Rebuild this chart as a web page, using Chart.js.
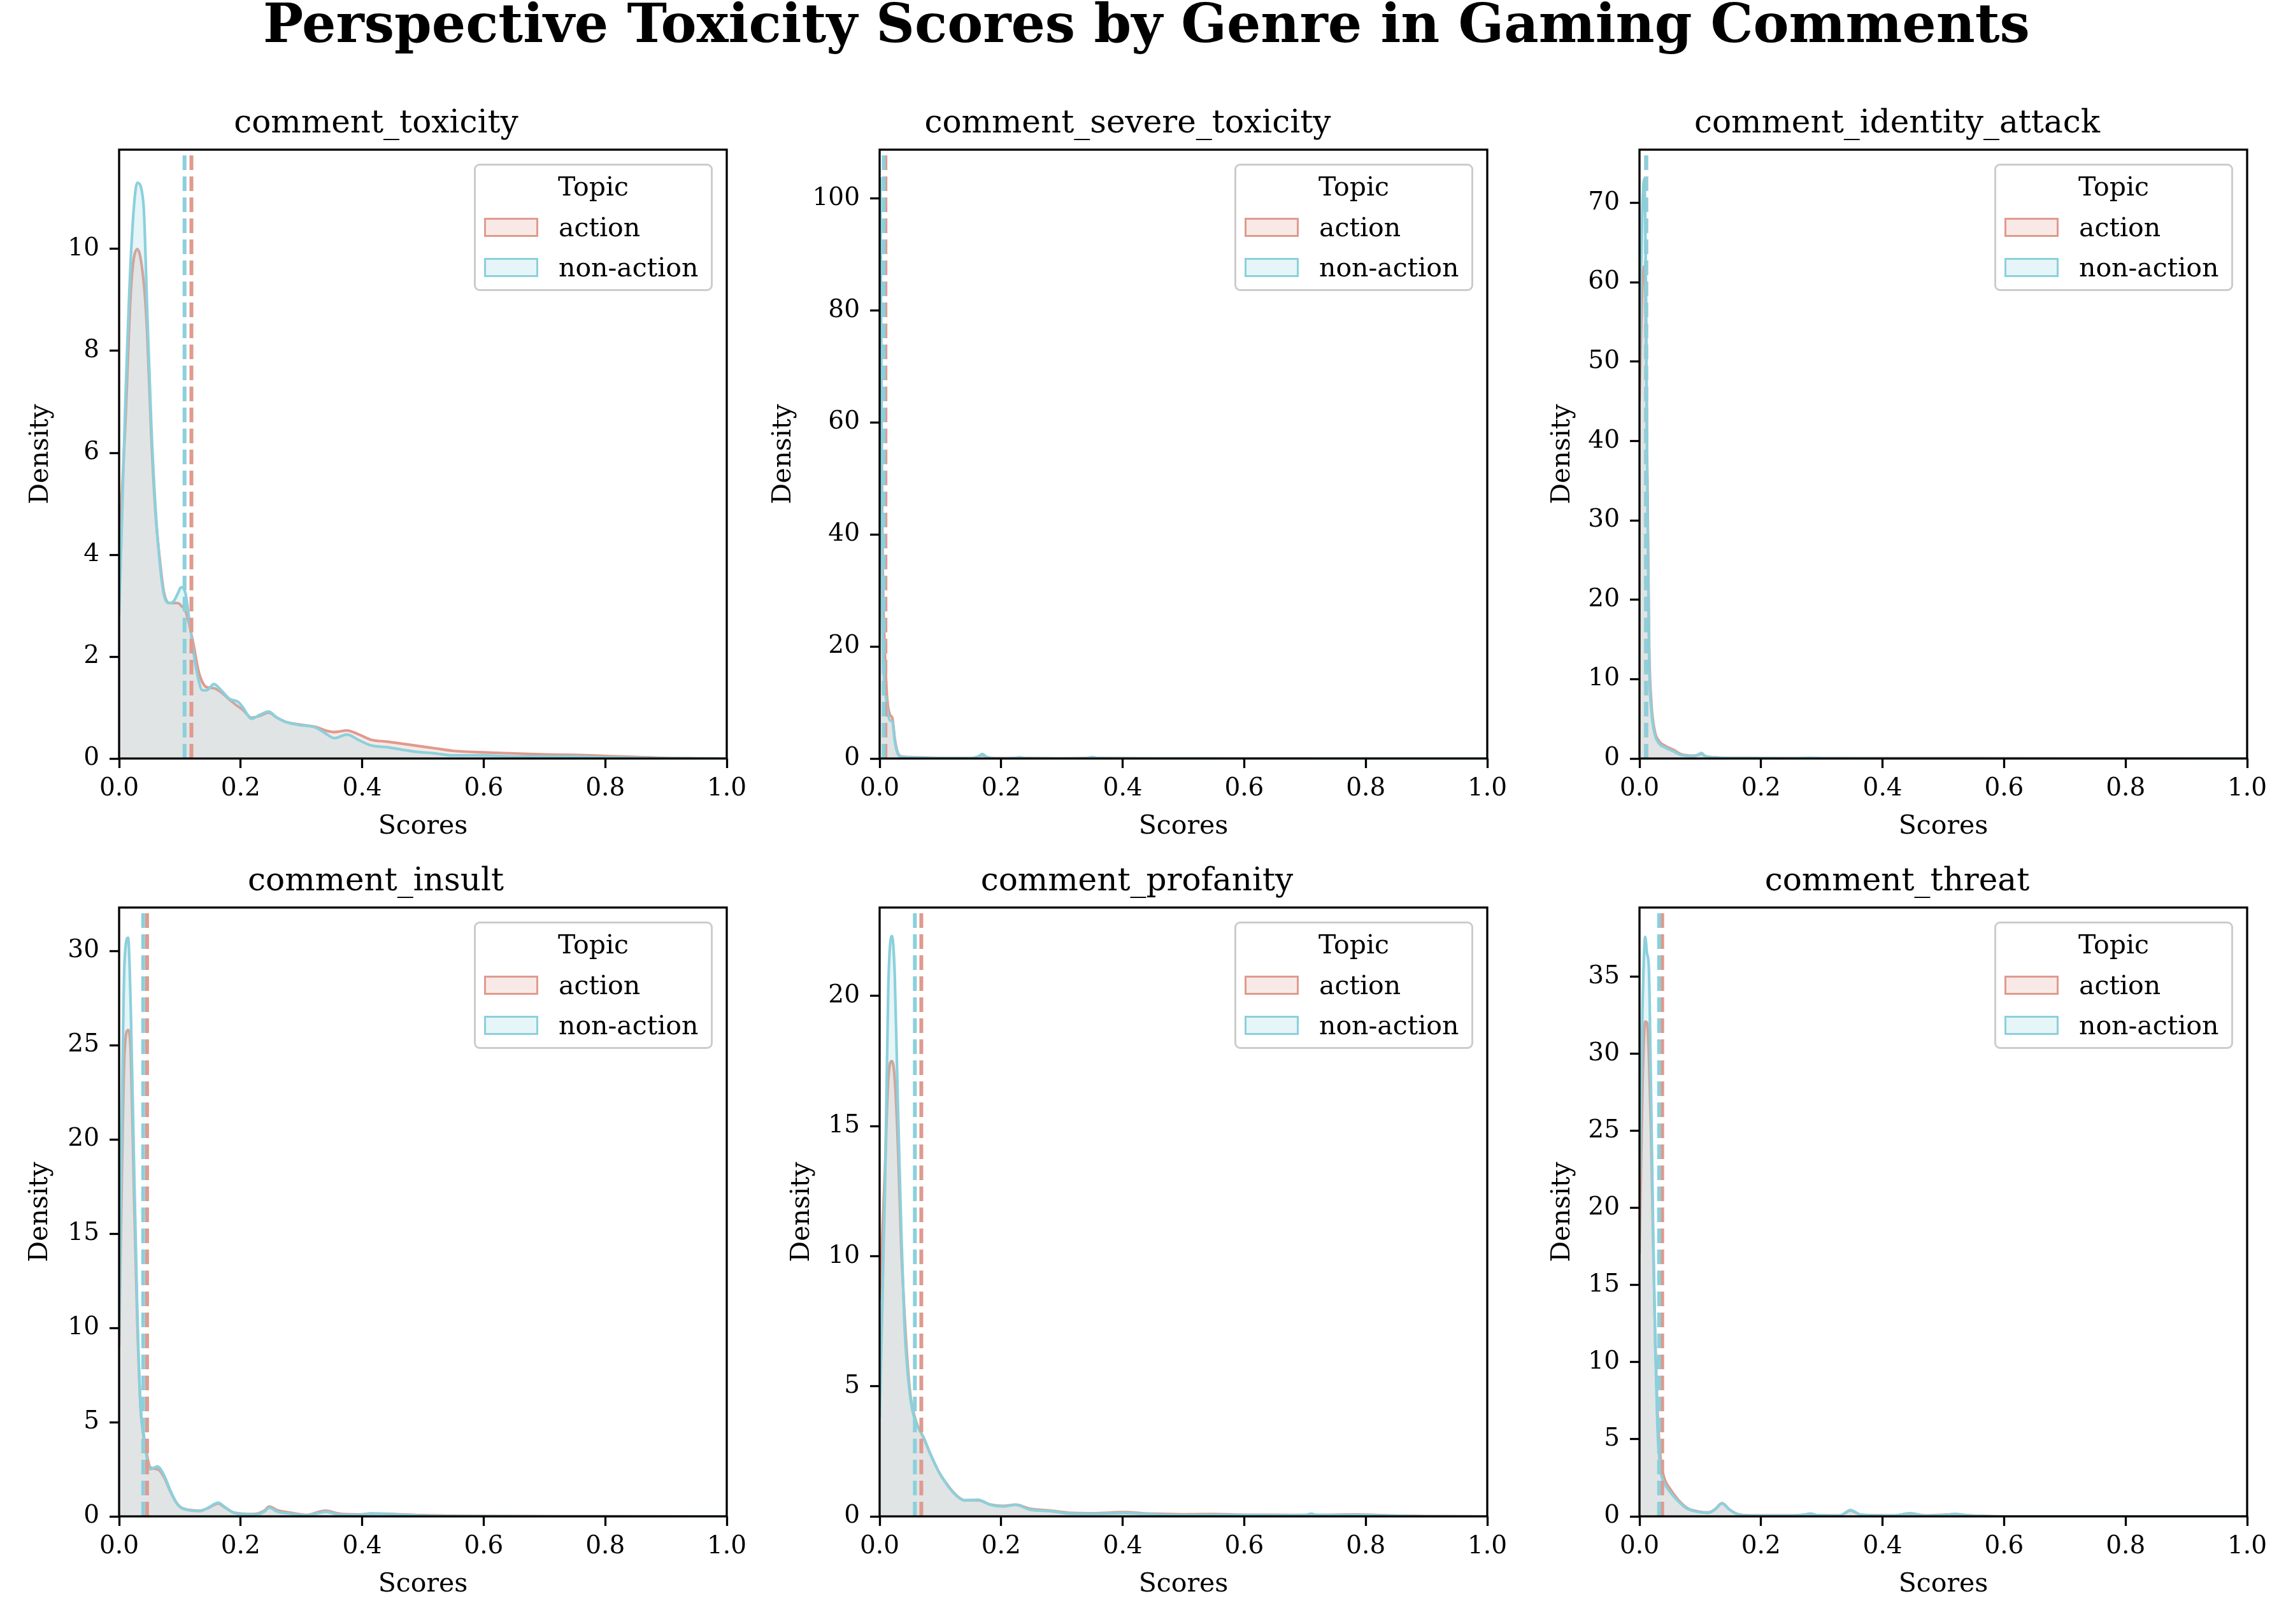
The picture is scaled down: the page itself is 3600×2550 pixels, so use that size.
<!DOCTYPE html>
<html>
<head>
<meta charset="utf-8">
<script src="https://cdn.jsdelivr.net/npm/chart.js@4.4.1/dist/chart.umd.min.js"></script>
<style>
  body { margin: 0; width: 3600px; height: 2550px; background: #fff; position: relative; overflow: hidden; font-family: 'DejaVu Serif', serif; }
  #suptitle { position: absolute; left: 0; width: 3600px; top: -5px; text-align: center; font-size: 84px; line-height: 84px; font-weight: bold; color: #000; }
  canvas { position: absolute; }
  .legend { position: absolute; box-sizing: border-box; width: 375px; height: 200px; border: 3px solid #cccccc; border-radius: 9px; background: rgba(255,255,255,0.8); font-size: 41px; color: #000; }
  .legend .ttl { position: absolute; left: 0; width: 100%; top: 8px; text-align: center; line-height: 50px; }
  .legend .row { position: absolute; left: 13px; height: 50px; line-height: 50px; }
  .legend .patch { position: absolute; left: 0; top: 10px; width: 85px; height: 30px; box-sizing: border-box; border: 3px solid; }
  .legend .lbl { position: absolute; left: 117px; top: 0; white-space: nowrap; }
</style>
</head>
<body>
<div id="suptitle">Perspective Toxicity Scores by Genre in Gaming Comments</div>
<script>
// ---- data ----
const panelNames = ['comment_toxicity', 'comment_severe_toxicity', 'comment_identity_attack',
                    'comment_insult', 'comment_profanity', 'comment_threat'];
const topics = ['action', 'non-action'];

const toxicityX = [0, 0.005, 0.01, 0.02, 0.03, 0.04, 0.046, 0.053, 0.06, 0.067, 0.074, 0.083, 0.09, 0.097, 0.102, 0.109, 0.116, 0.123, 0.13, 0.137, 0.144, 0.156, 0.168, 0.182, 0.196, 0.204, 0.218, 0.232, 0.246, 0.26, 0.274, 0.295, 0.323, 0.34, 0.354, 0.375, 0.393, 0.414, 0.442, 0.484, 0.52, 0.55, 0.6, 0.65, 0.7, 0.75, 0.8, 0.85, 0.9, 0.95, 1.0];
const toxicityAction = [4.2, 5.3, 6.5, 9.3, 10.0, 9.4, 8.4, 6.3, 4.8, 3.9, 3.25, 3.05, 3.05, 3.05, 3.0, 2.9, 2.6, 2.2, 1.75, 1.5, 1.4, 1.38, 1.3, 1.15, 1.02, 0.95, 0.8, 0.84, 0.9, 0.8, 0.72, 0.67, 0.62, 0.55, 0.52, 0.55, 0.48, 0.37, 0.33, 0.26, 0.2, 0.15, 0.12, 0.1, 0.08, 0.07, 0.05, 0.03, 0.01, 0.003, 0];
const toxicityNonAction = [2.8, 4.8, 6.9, 10.0, 11.3, 10.9, 8.9, 6.55, 4.9, 3.83, 3.2, 3.05, 3.09, 3.25, 3.36, 3.25, 2.67, 2.04, 1.58, 1.34, 1.34, 1.46, 1.34, 1.17, 1.11, 1.0, 0.78, 0.86, 0.92, 0.8, 0.72, 0.66, 0.61, 0.49, 0.4, 0.47, 0.37, 0.26, 0.22, 0.14, 0.1, 0.06, 0.06, 0.04, 0.04, 0.04, 0.02, 0.01, 0.005, 0.002, 0];

const severeX = [0, 0.001, 0.002, 0.003, 0.004, 0.005, 0.006, 0.007, 0.009, 0.011, 0.013, 0.017, 0.021, 0.025, 0.03, 0.035, 0.05, 0.1, 0.15, 0.162, 0.169, 0.176, 0.19, 0.22, 0.23, 0.24, 0.3, 0.34, 0.35, 0.36, 0.45, 0.6, 1.0];
const severeAction = [88, 92, 82, 62, 45, 35, 28, 24, 18, 13, 10, 7.8, 7.2, 3.5, 1.0, 0.4, 0.25, 0.1, 0.06, 0.3, 0.6, 0.25, 0.04, 0.06, 0.15, 0.06, 0.03, 0.06, 0.2, 0.06, 0.03, 0.01, 0];
const severeNonAction = [100, 103.5, 85, 55, 30, 22, 17, 15, 12, 10.5, 8.5, 6.8, 6.6, 3, 0.8, 0.35, 0.2, 0.08, 0.05, 0.35, 0.8, 0.3, 0.03, 0.05, 0.2, 0.05, 0.02, 0.05, 0.25, 0.05, 0.02, 0, 0];

const identityX = [0, 0.002, 0.005, 0.008, 0.0095, 0.011, 0.0125, 0.0145, 0.016, 0.0195, 0.025, 0.032, 0.042, 0.056, 0.07, 0.09, 0.098, 0.102, 0.108, 0.13, 0.2, 0.26, 0.28, 0.3, 0.4, 0.7, 1.0];
const identityAction = [45, 52, 60, 62, 60, 52, 38, 24, 14, 7.0, 3.5, 2.2, 1.6, 1.1, 0.5, 0.35, 0.5, 0.6, 0.3, 0.12, 0.06, 0.04, 0.08, 0.04, 0.03, 0.01, 0];
const identityNonAction = [50, 60, 70, 73, 68, 57, 37, 22, 12, 6.1, 3.1, 1.9, 1.4, 0.9, 0.4, 0.3, 0.55, 0.7, 0.3, 0.1, 0.05, 0.03, 0.1, 0.03, 0.02, 0, 0];

const insultX = [0, 0.0035, 0.0088, 0.0147, 0.0193, 0.0246, 0.0298, 0.035, 0.0404, 0.0456, 0.051, 0.063, 0.0737, 0.084, 0.095, 0.105, 0.133, 0.147, 0.163, 0.175, 0.189, 0.221, 0.239, 0.247, 0.26, 0.281, 0.309, 0.33, 0.34, 0.361, 0.396, 0.414, 0.47, 0.5, 0.6, 0.8, 1.0];
const insultAction = [9.0, 16, 24.5, 25.8, 24.5, 17, 10.5, 6.0, 4.2, 3.3, 2.6, 2.5, 2.1, 1.35, 0.7, 0.42, 0.3, 0.45, 0.68, 0.45, 0.2, 0.12, 0.3, 0.52, 0.33, 0.2, 0.07, 0.25, 0.3, 0.15, 0.1, 0.15, 0.1, 0.06, 0.02, 0.005, 0];
const insultNonAction = [9.5, 18.6, 29.3, 30.7, 26.8, 18.6, 11.2, 5.9, 4.4, 3.1, 2.5, 2.65, 2.2, 1.4, 0.68, 0.4, 0.28, 0.47, 0.72, 0.47, 0.19, 0.1, 0.25, 0.47, 0.25, 0.15, 0.05, 0.19, 0.25, 0.1, 0.08, 0.15, 0.08, 0.04, 0.01, 0, 0];

const profanityX = [0, 0.0089, 0.0142, 0.0202, 0.0249, 0.0302, 0.0355, 0.0409, 0.0462, 0.0515, 0.0568, 0.0622, 0.0728, 0.0835, 0.0977, 0.112, 0.126, 0.14, 0.1616, 0.183, 0.204, 0.224, 0.247, 0.282, 0.318, 0.353, 0.4, 0.45, 0.5, 0.55, 0.6, 0.65, 0.7, 0.71, 0.72, 0.78, 0.85, 0.9, 1.0];
const profanityAction = [8.3, 13.4, 16.8, 17.5, 16.8, 14.2, 10.4, 7.8, 5.8, 4.5, 3.9, 3.5, 3.0, 2.4, 1.7, 1.2, 0.82, 0.62, 0.62, 0.45, 0.4, 0.45, 0.3, 0.22, 0.13, 0.12, 0.16, 0.1, 0.08, 0.09, 0.06, 0.06, 0.05, 0.05, 0.05, 0.07, 0.03, 0.01, 0];
const profanityNonAction = [3.8, 12.7, 20.3, 22.3, 20.8, 15.7, 11.1, 7.3, 5.5, 4.4, 3.8, 3.5, 3.0, 2.4, 1.7, 1.18, 0.8, 0.61, 0.64, 0.44, 0.38, 0.44, 0.26, 0.2, 0.1, 0.1, 0.13, 0.08, 0.05, 0.06, 0.05, 0.04, 0.05, 0.1, 0.05, 0.05, 0.02, 0, 0];

const threatX = [0, 0.005, 0.0094, 0.0125, 0.0154, 0.0189, 0.0224, 0.0259, 0.0294, 0.0346, 0.0399, 0.05, 0.0643, 0.0783, 0.0958, 0.113, 0.124, 0.136, 0.148, 0.162, 0.183, 0.25, 0.27, 0.281, 0.292, 0.33, 0.347, 0.365, 0.42, 0.445, 0.47, 0.5, 0.52, 0.54, 0.57, 0.6, 1.0];
const threatAction = [17, 28, 32.1, 32, 30, 25, 18, 11.5, 7, 3.8, 2.6, 1.8, 1.05, 0.55, 0.32, 0.25, 0.45, 0.85, 0.45, 0.14, 0.06, 0.06, 0.1, 0.15, 0.08, 0.06, 0.38, 0.1, 0.06, 0.18, 0.06, 0.1, 0.14, 0.07, 0.02, 0, 0];
const threatNonAction = [22, 33, 37.6, 36.5, 35.6, 27.8, 18.8, 11.0, 5.9, 3.0, 2.25, 1.6, 0.96, 0.5, 0.3, 0.23, 0.44, 0.83, 0.44, 0.13, 0.05, 0.05, 0.1, 0.18, 0.08, 0.05, 0.41, 0.1, 0.05, 0.2, 0.05, 0.08, 0.15, 0.06, 0.02, 0, 0];

// mean score per topic (dashed lines)
const meanAction    = [0.119, 0.0096, 0.011, 0.046, 0.0686, 0.0374];
const meanNonAction = [0.1077, 0.0067, 0.011, 0.0396, 0.058, 0.0322];

// axis limits and tick steps
const xTicks = [0, 0.2, 0.4, 0.6, 0.8, 1.0];
const yMax  = [11.95, 108.7, 76.7, 32.3, 23.4, 39.5];
const yStep = [2, 20, 10, 5, 5, 5];

// ---- layout ----
const colLeft = [187, 1381, 2574];
const rowTop = [235, 1425];
const plotW = 954, plotH = 956;
const yAxisW = [147, 175, 145, 148, 146, 145];
const titleBlock = 70, xAxisH = 132, padRight = 60;

const colorAction = '#E09A8E';
const colorNonAction = '#8BD0DC';
const fillAction = 'rgba(224,154,142,0.22)';
const fillNonAction = 'rgba(139,208,220,0.22)';

const panelX = [toxicityX, severeX, identityX, insultX, profanityX, threatX];
const panelAction = [toxicityAction, severeAction, identityAction, insultAction, profanityAction, threatAction];
const panelNonAction = [toxicityNonAction, severeNonAction, identityNonAction, insultNonAction, profanityNonAction, threatNonAction];

Chart.defaults.font.family = "'DejaVu Serif', serif";
Chart.defaults.color = '#000';

const meanLines = {
    id: 'meanLines',
    afterDatasetsDraw(chart, args, opts) {
        const { ctx, chartArea, scales } = chart;
        ctx.save();
        ctx.beginPath();
        ctx.rect(chartArea.left, chartArea.top, chartArea.right - chartArea.left, chartArea.bottom - chartArea.top);
        ctx.clip();
        ctx.lineWidth = 6;
        ctx.setLineDash([23, 10]);
        opts.lines.forEach(l => {
            const px = scales.x.getPixelForValue(l.value);
            ctx.strokeStyle = l.color;
            ctx.beginPath();
            ctx.moveTo(px, chartArea.bottom);
            ctx.lineTo(px, chartArea.top);
            ctx.stroke();
        });
        ctx.restore();
    }
};

const frame = {
    id: 'frame',
    afterDraw(chart) {
        const { ctx, chartArea } = chart;
        ctx.save();
        ctx.strokeStyle = '#000';
        ctx.lineWidth = 3.3;
        ctx.strokeRect(chartArea.left, chartArea.top, chartArea.right - chartArea.left, chartArea.bottom - chartArea.top);
        ctx.restore();
    }
};

function toPoints(xs, ys) {
    return xs.map((x, i) => ({ x: x, y: ys[i] }));
}

function makeLegend(left, top) {
    const div = document.createElement('div');
    div.className = 'legend';
    div.style.left = left + 'px';
    div.style.top = top + 'px';
    let html = '<div class="ttl">Topic</div>';
    const cols = [[colorAction, fillAction], [colorNonAction, fillNonAction]];
    topics.forEach((t, i) => {
        const rowTopPx = 72 + i * 63;
        html += '<div class="row" style="top:' + rowTopPx + 'px">' +
                '<div class="patch" style="border-color:' + cols[i][0] + ';background:' + cols[i][1] + '"></div>' +
                '<div class="lbl">' + t + '</div></div>';
    });
    div.innerHTML = html;
    document.body.appendChild(div);
}

panelNames.forEach((name, i) => {
    const col = i % 3, row = Math.floor(i / 3);
    const W = yAxisW[i];
    const canvas = document.createElement('canvas');
    const cw = W + plotW + padRight, ch = titleBlock + plotH + xAxisH;
    canvas.width = cw; canvas.height = ch;
    canvas.style.width = cw + 'px'; canvas.style.height = ch + 'px';
    canvas.style.left = (colLeft[col] - W) + 'px';
    canvas.style.top = (rowTop[row] - titleBlock) + 'px';
    document.body.appendChild(canvas);

    new Chart(canvas.getContext('2d'), {
        type: 'line',
        data: {
            datasets: [
                {
                    label: topics[1],
                    data: toPoints(panelX[i], panelNonAction[i]),
                    borderColor: colorNonAction,
                    backgroundColor: fillNonAction,
                    fill: 'origin',
                    borderWidth: 4.2,
                    pointRadius: 0,
                    cubicInterpolationMode: 'monotone'
                },
                {
                    label: topics[0],
                    data: toPoints(panelX[i], panelAction[i]),
                    borderColor: colorAction,
                    backgroundColor: fillAction,
                    fill: 'origin',
                    borderWidth: 4.2,
                    pointRadius: 0,
                    cubicInterpolationMode: 'monotone'
                }
            ]
        },
        options: {
            responsive: false,
            animation: false,
            devicePixelRatio: 1,
            layout: { padding: { left: 0, right: padRight, top: 0, bottom: 0 } },
            plugins: {
                legend: { display: false },
                tooltip: { enabled: false },
                title: {
                    display: true,
                    text: name,
                    font: { size: 50, weight: 'normal' },
                    padding: { top: 0, bottom: 10 }
                },
                meanLines: {
                    lines: [
                        { value: meanAction[i], color: colorAction },
                        { value: meanNonAction[i], color: colorNonAction }
                    ]
                }
            },
            scales: {
                x: {
                    type: 'linear',
                    min: 0,
                    max: 1,
                    afterFit: s => { s.height = xAxisH; },
                    afterBuildTicks: s => { s.ticks = xTicks.map(v => ({ value: v })); },
                    ticks: {
                        font: { size: 39 },
                        padding: 9,
                        maxRotation: 0,
                        callback: v => Number(v).toFixed(1)
                    },
                    grid: { drawOnChartArea: false, drawTicks: true, tickLength: 15, tickWidth: 3.3, tickColor: '#000' },
                    border: { display: false },
                    title: { display: true, text: 'Scores', font: { size: 41 }, padding: 0 }
                },
                y: {
                    type: 'linear',
                    min: 0,
                    max: yMax[i],
                    afterFit: s => { s.width = W; },
                    ticks: {
                        stepSize: yStep[i],
                        includeBounds: false,
                        font: { size: 39 },
                        padding: 16,
                        callback: v => String(Math.round(v))
                    },
                    grid: { drawOnChartArea: false, drawTicks: true, tickLength: 15, tickWidth: 3.3, tickColor: '#000' },
                    border: { display: false },
                    title: { display: true, text: 'Density', font: { size: 41 }, padding: 0 }
                }
            }
        },
        plugins: [meanLines, frame]
    });

    makeLegend(colLeft[col] + plotW - 22 - 375, rowTop[row] + 22);
});
</script>
</body>
</html>
